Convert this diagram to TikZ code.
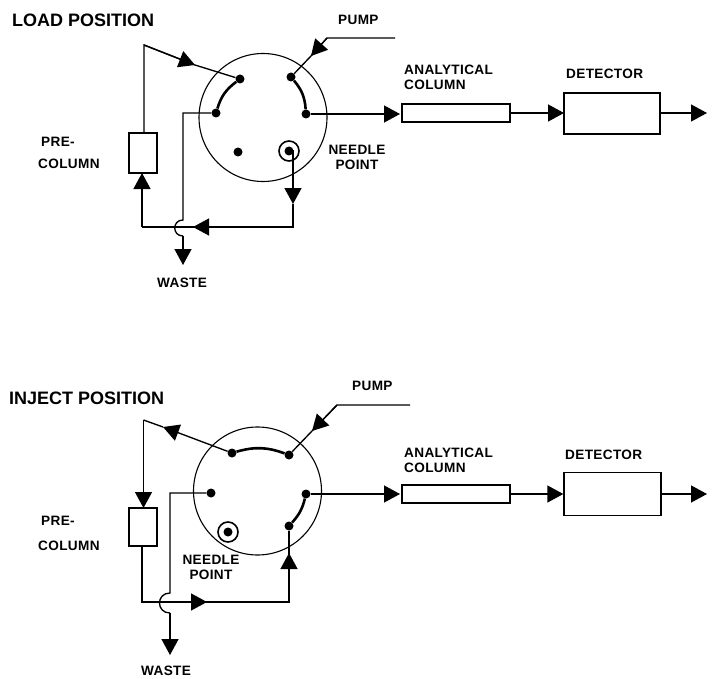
\documentclass[tikz,border=0pt]{standalone}
\usepackage{fontspec}
\setmainfont{Liberation Sans}
\usetikzlibrary{arrows.meta}
\tikzset{
  x=1pt,y=-1pt,
  flow/.style={line width=1.35pt,line join=miter},
  tip/.style={flow,-{Triangle[length=16pt,width=17pt]}},
  port/.style={circle,fill=black,inner sep=0pt,minimum size=9pt},
  valve/.style={circle,draw,line width=1.1pt,minimum size=128pt,inner sep=0pt},
  ring/.style={circle,draw,line width=1.6pt,minimum size=20pt,inner sep=0pt},
  link/.style={line width=2.6pt},
  box/.style={draw,line width=1.35pt,inner sep=0pt},
  lab/.style={font=\bfseries\fontsize{13.6}{15}\selectfont\addfontfeatures{LetterSpace=2.5},inner sep=0pt,align=center},
  labl/.style={lab,anchor=west,align=left},
  ttl/.style={font=\bfseries\fontsize{18}{20}\selectfont,inner sep=0pt,anchor=west}
}
\begin{document}
\begin{tikzpicture}
\useasboundingbox (0,0) rectangle (714,679);
% ---------- LOAD
\node[ttl] (t1) at (12,20) {LOAD POSITION};
\node[valve] (v1) at (263,117.5) {};
\node[port] (a1) at (240,79) {};
\node[port] (b1) at (291,77) {};
\node[port] (c1) at (216,113) {};
\node[port] (d1) at (306,114) {};
\node[port] (e1) at (238,152) {};
\node[port] (f1) at (289,151) {};
\node[ring] (r1) at (289,151) {};
\node[box,minimum width=28pt,minimum height=40pt] (pc1) at (143,153) {};
\node[box,minimum width=108pt,minimum height=18pt] (ac1) at (456,113) {};
\node[box,minimum width=96pt,minimum height=41pt] (de1) at (612,113.5) {};
\coordinate (j1) at (144,45);
\coordinate (pe1) at (395,38);
\coordinate (pk1) at (327,38);
\coordinate (pt1) at (311,56);
\coordinate (aa1) at (195,65);
\coordinate (oa1) at (400,114);
\coordinate (od1) at (707,113);
\coordinate (n1) at (293,204);
\coordinate (nb1) at (293,227);
\coordinate (m1) at (193,227);
\coordinate (lb1) at (142,227);
\coordinate (wa1) at (183,113);
\coordinate (wb1) at (183,220);
\coordinate (wc1) at (183,236);
\coordinate (wd1) at (183,265);
\coordinate (pcu1) at (144,133);
\coordinate (pcd1) at (142,173);
\coordinate (acr1) at (510,113);
\coordinate (der1) at (564,113);
\coordinate (dex1) at (660,113);
\draw[flow] (pcu1) -- (j1) -- (aa1);
\draw[flow] (aa1) -- (a1);
\draw[tip] (j1) -- (aa1);
\draw[flow] (pe1) -- (pk1) -- (pt1) -- (b1);
\draw[tip] (pk1) -- (pt1);
\draw[link] (a1) to[bend right=18] (c1);
\draw[link] (b1) to[bend left=18] (d1);
\draw[tip] (d1) -- (oa1);
\draw[tip] (acr1) -- (der1);
\draw[tip] (dex1) -- (od1);
\draw[flow] (c1) -- (wa1) -- (wb1) .. controls (172,220) and (172,236) .. (wc1);
\draw[tip] (wc1) -- (wd1);
\draw[tip] (f1) -| (n1);
\draw[flow] (n1) -- (nb1) -- (m1);
\draw[tip] (nb1) -- (m1);
\draw[flow] (m1) -- (lb1);
\draw[tip] (lb1) -- (pcd1);
\node[labl] (p1) at (338,20) {PUMP};
\node[lab] (q1) at (357,157) {NEEDLE\\POINT};
\node[labl] (w1) at (157,283) {WASTE};
\node[labl] (s1) at (41,142) {PRE-};
\node[labl] (s2) at (38,164) {COLUMN};
\node[labl] (an1) at (404,77) {ANALYTICAL\\COLUMN};
\node[labl] (dt1) at (566,74) {DETECTOR};
% ---------- INJECT
\node[ttl] (t2) at (9,398) {INJECT POSITION};
\node[valve] (v2) at (257.5,491) {};
\node[port] (a2) at (232,453) {};
\node[port] (b2) at (289,455) {};
\node[port] (c2) at (211,493) {};
\node[port] (d2) at (306,494) {};
\node[port] (e2) at (289,526) {};
\node[port] (f2) at (228,532) {};
\node[ring] (r2) at (228,532) {};
\node[box,minimum width=28pt,minimum height=38pt] (pc2) at (143,527) {};
\node[box,minimum width=108pt,minimum height=18pt] (ac2) at (456,494) {};
\node[box,minimum width=97pt,minimum height=43pt] (de2) at (612.5,494) {};
\coordinate (j2) at (143.5,420);
\coordinate (pe2) at (410,405);
\coordinate (pk2) at (337,405);
\coordinate (pt2) at (312,431);
\coordinate (aa2) at (163,427);
\coordinate (oa2) at (400,494);
\coordinate (od2) at (707,494);
\coordinate (n2) at (289,553);
\coordinate (nb2) at (289,602);
\coordinate (m2) at (207,602);
\coordinate (lb2) at (142,602);
\coordinate (wa2) at (170,493);
\coordinate (wb2) at (170,593);
\coordinate (wc2) at (170,613);
\coordinate (wd2) at (170,655);
\coordinate (pcu2) at (143.5,508);
\coordinate (pcd2) at (142,546);
\draw[tip] (a2) -- (aa2);
\draw[flow] (aa2) -- (j2);
\draw[tip] (j2) -- (pcu2);
\draw[flow] (pe2) -- (pk2) -- (pt2) -- (b2);
\draw[tip] (pk2) -- (pt2);
\draw[link] (a2) to[bend left=18] (b2);
\draw[link] (d2) to[bend left=14] (e2);
\draw[tip] (d2) -- (oa2);
\draw[tip] (ac2.east) -- (de2.west);
\draw[tip] (de2.east) -- (od2);
\draw[flow] (c2) -- (wa2) -- (wb2) .. controls (156,593) and (156,613) .. (wc2);
\draw[tip] (wc2) -- (wd2);
\draw[flow] (pcd2) -- (lb2) -- (m2);
\draw[tip] (lb2) -- (m2);
\draw[flow] (m2) -- (nb2) -- (n2);
\draw[tip] (nb2) -- (n2);
\draw[flow] (n2) -- (e2);
\node[labl] (p2) at (352,386) {PUMP};
\node[lab] (q2) at (211,567) {NEEDLE\\POINT};
\node[labl] (w2) at (141,671) {WASTE};
\node[labl] (s3) at (41,521) {PRE-};
\node[labl] (s4) at (38,546) {COLUMN};
\node[labl] (an2) at (404,460) {ANALYTICAL\\COLUMN};
\node[labl] (dt2) at (565,455) {DETECTOR};
\end{tikzpicture}
\end{document}
